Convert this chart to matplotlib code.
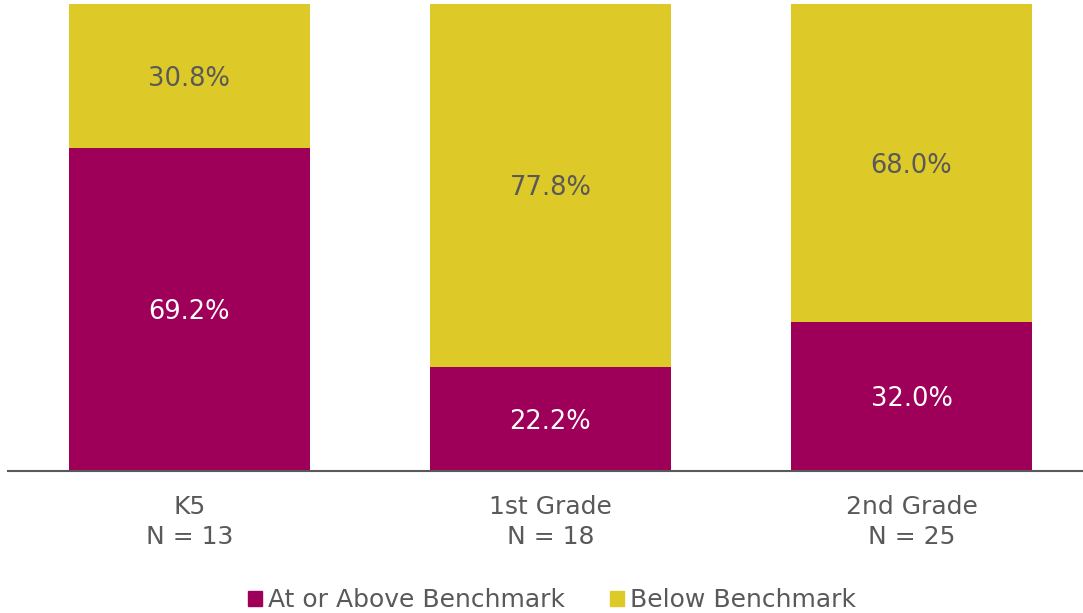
import matplotlib
matplotlib.use('Agg')
import matplotlib.pyplot as plt
from matplotlib.patches import Patch

plt.rcParams['font.family'] = ['DejaVu Sans']

# Data
categories = ['K5\nN = 13', '1st Grade\nN = 18', '2nd Grade\nN = 25']
at_or_above = [69.2, 22.2, 32.0]
below = [30.8, 77.8, 68.0]

MAGENTA = '#9E0059'
YELLOW = '#DDC927'
GREY = '#595959'

fig = plt.figure(figsize=(10.83, 6.13), dpi=100)
ax = fig.add_axes([8 / 1083, 1 - 471 / 613, 1 - 8 / 1083, 467 / 613])

x = range(len(categories))
ax.bar(x, at_or_above, width=0.667, color=MAGENTA, zorder=2)
ax.bar(x, below, width=0.667, bottom=at_or_above, color=YELLOW, zorder=2)

for i in x:
    ax.text(i, at_or_above[i] / 2 - 0.6, f'{at_or_above[i]:.1f}%', ha='center', va='center',
            color='white', fontsize=18.5)
    ax.text(i, at_or_above[i] + below[i] / 2 - 0.6, f'{below[i]:.1f}%', ha='center', va='center',
            color=GREY, fontsize=18.5)

ax.set_xlim(-0.502, 2.475)
ax.set_ylim(0, 100)
ax.set_xticks(list(x))
ax.set_xticklabels(categories, fontsize=18, color=GREY, linespacing=1.35)
ax.tick_params(axis='x', length=0, pad=17)
ax.set_yticks([])
for s in ['top', 'right', 'left']:
    ax.spines[s].set_visible(False)
ax.spines['bottom'].set_color(GREY)
ax.spines['bottom'].set_linewidth(1.5)

handles = [Patch(color=MAGENTA, label='At or Above Benchmark'),
           Patch(color=YELLOW, label='Below Benchmark')]
leg = fig.legend(handles=handles, loc='lower center', bbox_to_anchor=(0.51, -0.035), ncol=2,
                 frameon=False, fontsize=18, handlelength=0.55, handleheight=0.55,
                 handletextpad=0.25, columnspacing=1.8)
for t in leg.get_texts():
    t.set_color(GREY)

fig.savefig('out.png', dpi=100)
